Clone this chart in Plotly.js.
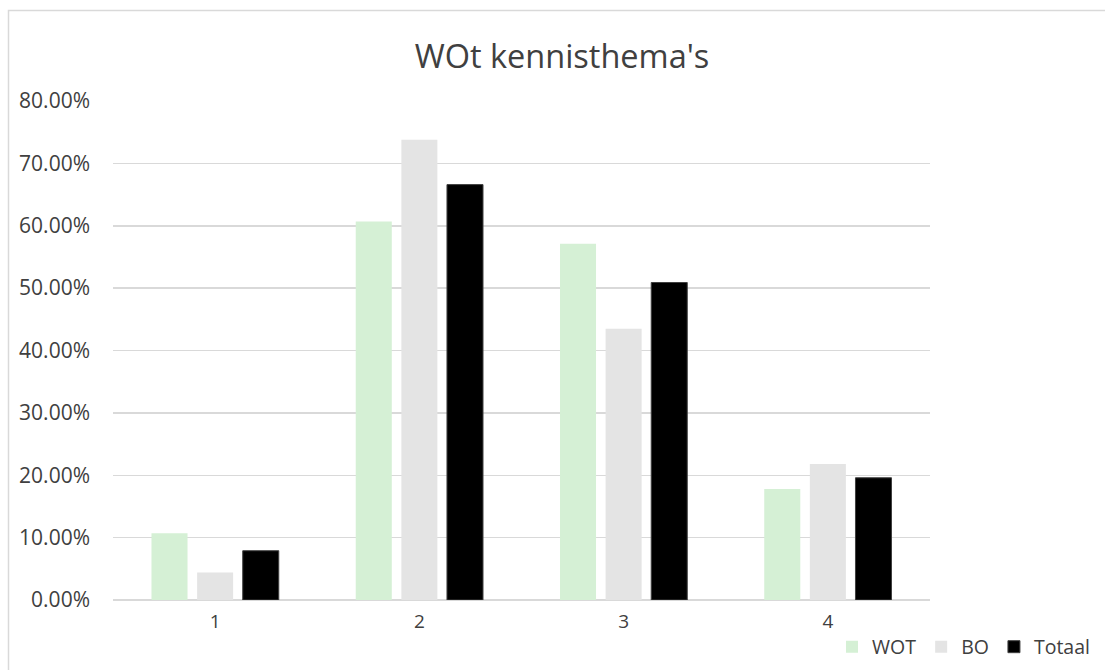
<!DOCTYPE html>
<html>
<head>
<meta charset="utf-8">
<script src="https://cdn.plot.ly/plotly-3.0.1.min.js"></script>
<style>html,body{margin:0;padding:0;background:#fff;}#chart{width:1105px;height:670px;}</style>
</head>
<body>
<div id="chart"></div>
<script>
var categories = ["1", "2", "3", "4"];
var seriesNames = ["WOT", "BO", "Totaal"];
var wot = [0.107, 0.607, 0.571, 0.178];
var bo = [0.044, 0.738, 0.435, 0.218];
var totaal = [0.079, 0.666, 0.509, 0.196];
var colors = ["#d5f0d5", "#e4e4e4", "#000000"];
var lineColors = ["#d5f0d5", "#e4e4e4", "#404040"];
var values = [wot, bo, totaal];

var font = "Open Sans, Liberation Sans, sans-serif";
var traces = seriesNames.map(function (n, i) {
  return {
    type: "bar",
    name: n,
    x: categories,
    y: values[i],
    marker: { color: colors[i], line: { color: lineColors[i], width: i === 2 ? 1 : 0 } },
    hoverinfo: "none"
  };
});

var L = 113, R = 930, T = 101, B = 600, W = 1105, H = 670;
function px(x) { return (x - L) / (R - L); }
function py(y) { return (B - y) / (B - T); }

var layout = {
  width: W, height: H,
  margin: { l: L, r: W - R, t: T, b: H - B, pad: 0, autoexpand: false },
  paper_bgcolor: "#ffffff",
  plot_bgcolor: "#ffffff",
  barmode: "group",
  bargap: 0.33,
  bargroupgap: 0.21,
  title: {
    text: "WOt kennisthema's",
    font: { family: font, size: 32.5, color: "#404040" },
    x: px(562), xanchor: "center", xref: "paper",
    y: 1 - 57 / H, yanchor: "middle"
  },
  xaxis: {
    type: "category",
    showgrid: false,
    showline: false,
    zeroline: false,
    ticks: "",
    automargin: false,
    tickfont: { family: font, size: 19, color: "#404040" },
    ticklabelstandoff: 8
  },
  yaxis: {
    range: [0, 0.8],
    dtick: 0.1,
    tickformat: ".2%",
    showgrid: true,
    gridcolor: "#d9d9d9",
    gridwidth: 1.5,
    zeroline: true,
    zerolinecolor: "#d9d9d9",
    zerolinewidth: 1.5,
    showline: false,
    ticks: "",
    automargin: false,
    tickfont: { family: font, size: 21, color: "#404040" },
    ticklabelstandoff: 22
  },
  showlegend: true,
  legend: {
    orientation: "h",
    x: px(832), xanchor: "left",
    y: py(647), yanchor: "middle",
    font: { family: font, size: 19.5, color: "#404040" },
    bgcolor: "rgba(0,0,0,0)",
    itemwidth: 30,
    traceorder: "normal"
  },
  shapes: [
    {
      type: "rect", xref: "paper", yref: "paper",
      x0: px(8.5), x1: px(1120), y0: py(690), y1: py(10.5),
      line: { color: "#d9d9d9", width: 1.5 }, fillcolor: "rgba(0,0,0,0)", layer: "below"
    }
  ]
};

Plotly.newPlot("chart", traces, layout, { staticPlot: true, displayModeBar: false });
</script>
</body>
</html>
